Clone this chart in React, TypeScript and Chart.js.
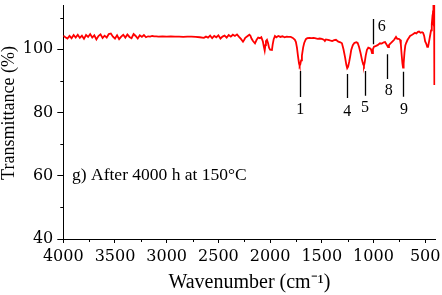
import React, { useEffect, useRef } from "react";
import { Chart, registerables } from "chart.js";

Chart.register(...registerables);

// ---- data ----
const wavenumbers = [
  4000, 3980, 3960, 3940, 3920, 3900, 3880, 3860, 3840, 3820, 3800, 3780, 3760, 3740, 3720, 3700,
  3680, 3660, 3640, 3620, 3600, 3580, 3560, 3540, 3520, 3500, 3480, 3460, 3440, 3420, 3400, 3380,
  3360, 3340, 3320, 3300, 3280, 3260, 3240, 3220, 3200, 3180, 3160, 3140, 3120, 3100, 3080, 3040,
  3000, 2960, 2920, 2880, 2840, 2800, 2760, 2720, 2680, 2640, 2620, 2600, 2580, 2560, 2540, 2520,
  2500, 2480, 2460, 2440, 2420, 2400, 2380, 2360, 2340, 2320, 2300, 2280, 2262, 2250, 2240, 2220,
  2200, 2190, 2180, 2165, 2146, 2130, 2115, 2098, 2085, 2070, 2060, 2052, 2045, 2040, 2030, 2020,
  2010, 2000, 1982, 1975, 1965, 1953, 1940, 1920, 1900, 1880, 1860, 1840, 1820, 1800, 1780, 1760,
  1750, 1740, 1730, 1720, 1714, 1708, 1700, 1692, 1680, 1670, 1654, 1640, 1620, 1600, 1580, 1567,
  1540, 1520, 1500, 1480, 1470, 1460, 1440, 1421, 1400, 1380, 1363, 1340, 1320, 1305, 1290, 1275,
  1262, 1254, 1245, 1235, 1225, 1215, 1200, 1185, 1177, 1165, 1153, 1140, 1125, 1110, 1100, 1092,
  1085, 1075, 1063, 1050, 1034, 1024, 1014, 1005, 995, 980, 960, 937, 920, 900, 888, 875,
  865, 859, 850, 840, 830, 815, 800, 782, 770, 755, 743, 735, 728, 720, 714, 708,
  700, 692, 685, 670, 660, 646, 630, 615, 598, 585, 570, 559, 545, 530, 520, 510,
  500, 491, 480, 472, 462, 453, 443, 436, 432, 428, 424, 420, 414, 412, 410,
];

const transmittance = [
  104.3, 103.8, 103.4, 104.2, 103.5, 104.5, 103.7, 104.6, 103.6, 104.3, 103.3, 104.5, 103.9, 104.8, 103.7, 104.4,
  103.1, 104.2, 104.7, 103.6, 104.3, 103.7, 104.8, 105.0, 104.0, 103.4, 104.4, 103.2, 104.0, 104.6, 103.7, 104.7,
  103.9, 103.5, 104.8, 104.2, 103.4, 104.4, 103.9, 104.5, 103.8, 104.1, 104.0, 104.2, 104.1, 104.1, 104.0, 104.1,
  104.0, 104.1, 104.0, 104.0, 103.9, 104.0, 104.0, 103.9, 103.8, 103.6, 104.0, 103.7, 104.3, 103.5, 104.2, 103.8,
  104.4, 103.4, 104.0, 104.3, 103.7, 104.5, 104.0, 104.6, 104.2, 104.7, 103.9, 103.2, 102.4, 103.0, 103.6, 104.1,
  104.6, 104.3, 103.4, 102.6, 101.9, 103.0, 103.7, 103.5, 103.8, 102.5, 100.8, 99.6, 101.3, 102.6, 103.0, 102.0,
  100.5, 99.9, 99.8, 101.5, 103.2, 104.2, 103.8, 104.2, 103.9, 104.1, 103.8, 104.0, 103.9, 103.9, 103.6, 103.0,
  102.3, 100.5, 97.8, 95.5, 94.8, 95.2, 96.5, 98.0, 100.6, 102.0, 103.2, 103.5, 103.6, 103.5, 103.6, 103.5,
  103.3, 103.4, 103.3, 103.0, 102.6, 103.1, 103.0, 102.8, 102.6, 102.9, 103.0, 102.4, 102.2, 101.9, 100.0, 97.5,
  95.0, 94.0, 94.5, 96.0, 97.8, 99.8, 101.3, 102.0, 102.1, 102.2, 102.0, 100.8, 98.8, 96.5, 95.3, 94.8,
  95.8, 98.0, 99.8, 100.5, 100.3, 100.0, 98.8, 100.0, 100.8, 101.0, 101.3, 101.9, 101.8, 102.2, 102.3, 101.6,
  101.0, 100.7, 101.3, 101.7, 102.0, 102.5, 103.0, 103.9, 103.3, 103.3, 103.0, 101.5, 98.5, 95.5, 94.2, 95.5,
  99.0, 101.2, 101.9, 103.0, 103.5, 104.2, 104.5, 104.8, 105.2, 105.0, 105.5, 105.6, 105.2, 105.4, 105.2, 104.3,
  102.5, 101.9, 100.8, 100.8, 102.5, 104.2, 106.0, 108.0, 109.5, 109.0, 112.0, 116.0, 116.0, 100.0, 88.7,
];

const xTickValues = [4000, 3500, 3000, 2500, 2000, 1500, 1000, 500];
const xMinorTickValues = [3750, 3250, 2750, 2250, 1750, 1250, 750];
const yTickValues = [40, 60, 80, 100];
const yMinorTickValues = [50, 70, 90, 110];
const xMin = 400;
const xMax = 4000;
const yMin = 40;
const yMax = 114;

const peakNames = ["1", "4", "5", "6", "8", "9"];
const peakLineX = [1708, 1254, 1080, 1002, 870, 712];
const peakLineTop = [93.1, 92.2, 93.1, 109.6, 98.4, 92.9];
const peakLineBottom = [84.9, 84.6, 85.3, 101.6, 90.6, 85.0];
const peakTextX = [1708, 1254, 1083, 921, 852, 705];
const peakTextY = [80.8, 80.3, 81.4, 107.2, 87.0, 80.8];

const sampleNote = "g) After 4000 h at 150°C";
const noteX = 3915;
const noteY = 60;

const xTitle = "Wavenumber (cm\u207B\u00B9)";
const yTitle = "    Transmittance (%)";

const serif = "'Liberation Serif', 'Times New Roman', serif";
const tickFont = "'DejaVu Serif', serif";

const minorTicksPlugin = {
  id: "minorTicks",
  afterDraw(chart: any) {
    const { ctx, chartArea } = chart;
    const x = chart.scales.x;
    const y = chart.scales.y;
    ctx.save();
    ctx.strokeStyle = "#000";
    ctx.lineWidth = 1;
    ctx.beginPath();
    xMinorTickValues.forEach((v) => {
      const px = Math.round(x.getPixelForValue(v)) + 0.5;
      ctx.moveTo(px, chartArea.bottom);
      ctx.lineTo(px, chartArea.bottom + 3);
    });
    yMinorTickValues.forEach((v) => {
      const py = Math.round(y.getPixelForValue(v)) + 0.5;
      ctx.moveTo(chartArea.left, py);
      ctx.lineTo(chartArea.left - 3, py);
    });
    ctx.stroke();
    ctx.restore();
  },
};

const annotationPlugin = {
  id: "peakAnnotations",
  afterDatasetsDraw(chart: any) {
    const { ctx } = chart;
    const x = chart.scales.x;
    const y = chart.scales.y;
    ctx.save();
    ctx.strokeStyle = "#000";
    ctx.lineWidth = 1.3;
    ctx.beginPath();
    peakNames.forEach((_, i) => {
      const px = Math.round(x.getPixelForValue(peakLineX[i])) + 0.5;
      ctx.moveTo(px, y.getPixelForValue(peakLineTop[i]));
      ctx.lineTo(px, y.getPixelForValue(peakLineBottom[i]));
    });
    ctx.stroke();
    ctx.fillStyle = "#000";
    ctx.font = `16px ${serif}`;
    ctx.textAlign = "center";
    ctx.textBaseline = "middle";
    peakNames.forEach((name, i) => {
      ctx.fillText(name, x.getPixelForValue(peakTextX[i]), y.getPixelForValue(peakTextY[i]));
    });
    ctx.font = `17.5px ${serif}`;
    ctx.textAlign = "left";
    ctx.fillText(sampleNote, x.getPixelForValue(noteX), y.getPixelForValue(noteY));
    ctx.restore();
  },
};

export default function App() {
  const canvasRef = useRef<HTMLCanvasElement | null>(null);

  useEffect(() => {
    if (!canvasRef.current) return;
    const points = wavenumbers.map((w, i) => ({ x: w, y: transmittance[i] }));
    const chart = new Chart(canvasRef.current, {
      type: "line",
      data: {
        datasets: [
          {
            data: points,
            borderColor: "#ff0000",
            borderWidth: 1.8,
            pointRadius: 0,
            tension: 0,
            fill: false,
          },
        ],
      },
      options: {
        animation: false,
        responsive: true,
        maintainAspectRatio: false,
        layout: { padding: { top: 5, right: 6.5, bottom: 0, left: 0 } },
        plugins: {
          legend: { display: false },
          tooltip: { enabled: false },
        },
        scales: {
          x: {
            type: "linear",
            reverse: true,
            min: xMin,
            max: xMax,
            afterBuildTicks: (axis: any) => {
              axis.ticks = xTickValues.map((v) => ({ value: v }));
            },
            afterFit: (scale: any) => {
              scale.height = 56;
              scale.paddingLeft = 0;
              scale.paddingRight = 0;
            },
            ticks: {
              autoSkip: false,
              maxRotation: 0,
              padding: 7,
              color: "#000",
              font: { family: tickFont, size: 16, lineHeight: 0.8 },
              callback: (v: any) => String(v),
            },
            grid: {
              drawOnChartArea: false,
              drawTicks: true,
              tickLength: 4,
              tickColor: "#000",
              tickWidth: 1,
            },
            border: { display: true, color: "#000", width: 1 },
            title: {
              display: true,
              text: xTitle,
              color: "#000",
              font: { family: serif, size: 20, lineHeight: 1 },
              padding: { top: 0, bottom: 2 },
            },
          },
          y: {
            type: "linear",
            min: yMin,
            max: yMax,
            afterBuildTicks: (axis: any) => {
              axis.ticks = yTickValues.map((v) => ({ value: v }));
            },
            afterFit: (scale: any) => {
              scale.width = 63.3;
              scale.paddingTop = 0;
              scale.paddingBottom = 0;
            },
            ticks: {
              padding: 4,
              color: "#000",
              font: { family: tickFont, size: 16 },
              callback: (v: any) => String(v),
            },
            grid: {
              drawOnChartArea: false,
              drawTicks: true,
              tickLength: 6,
              tickColor: "#000",
              tickWidth: 1,
            },
            border: { display: true, color: "#000", width: 1 },
            title: {
              display: true,
              text: yTitle,
              color: "#000",
              font: { family: serif, size: 18, lineHeight: 1 },
              padding: { top: 0, bottom: 0 },
            },
          },
        },
      },
      plugins: [minorTicksPlugin, annotationPlugin],
    });
    return () => chart.destroy();
  }, []);

  return (
    <div style={{ position: "fixed", left: 0, top: 0, width: 442, height: 295, background: "#fff" }}>
      <canvas ref={canvasRef} />
    </div>
  );
}
